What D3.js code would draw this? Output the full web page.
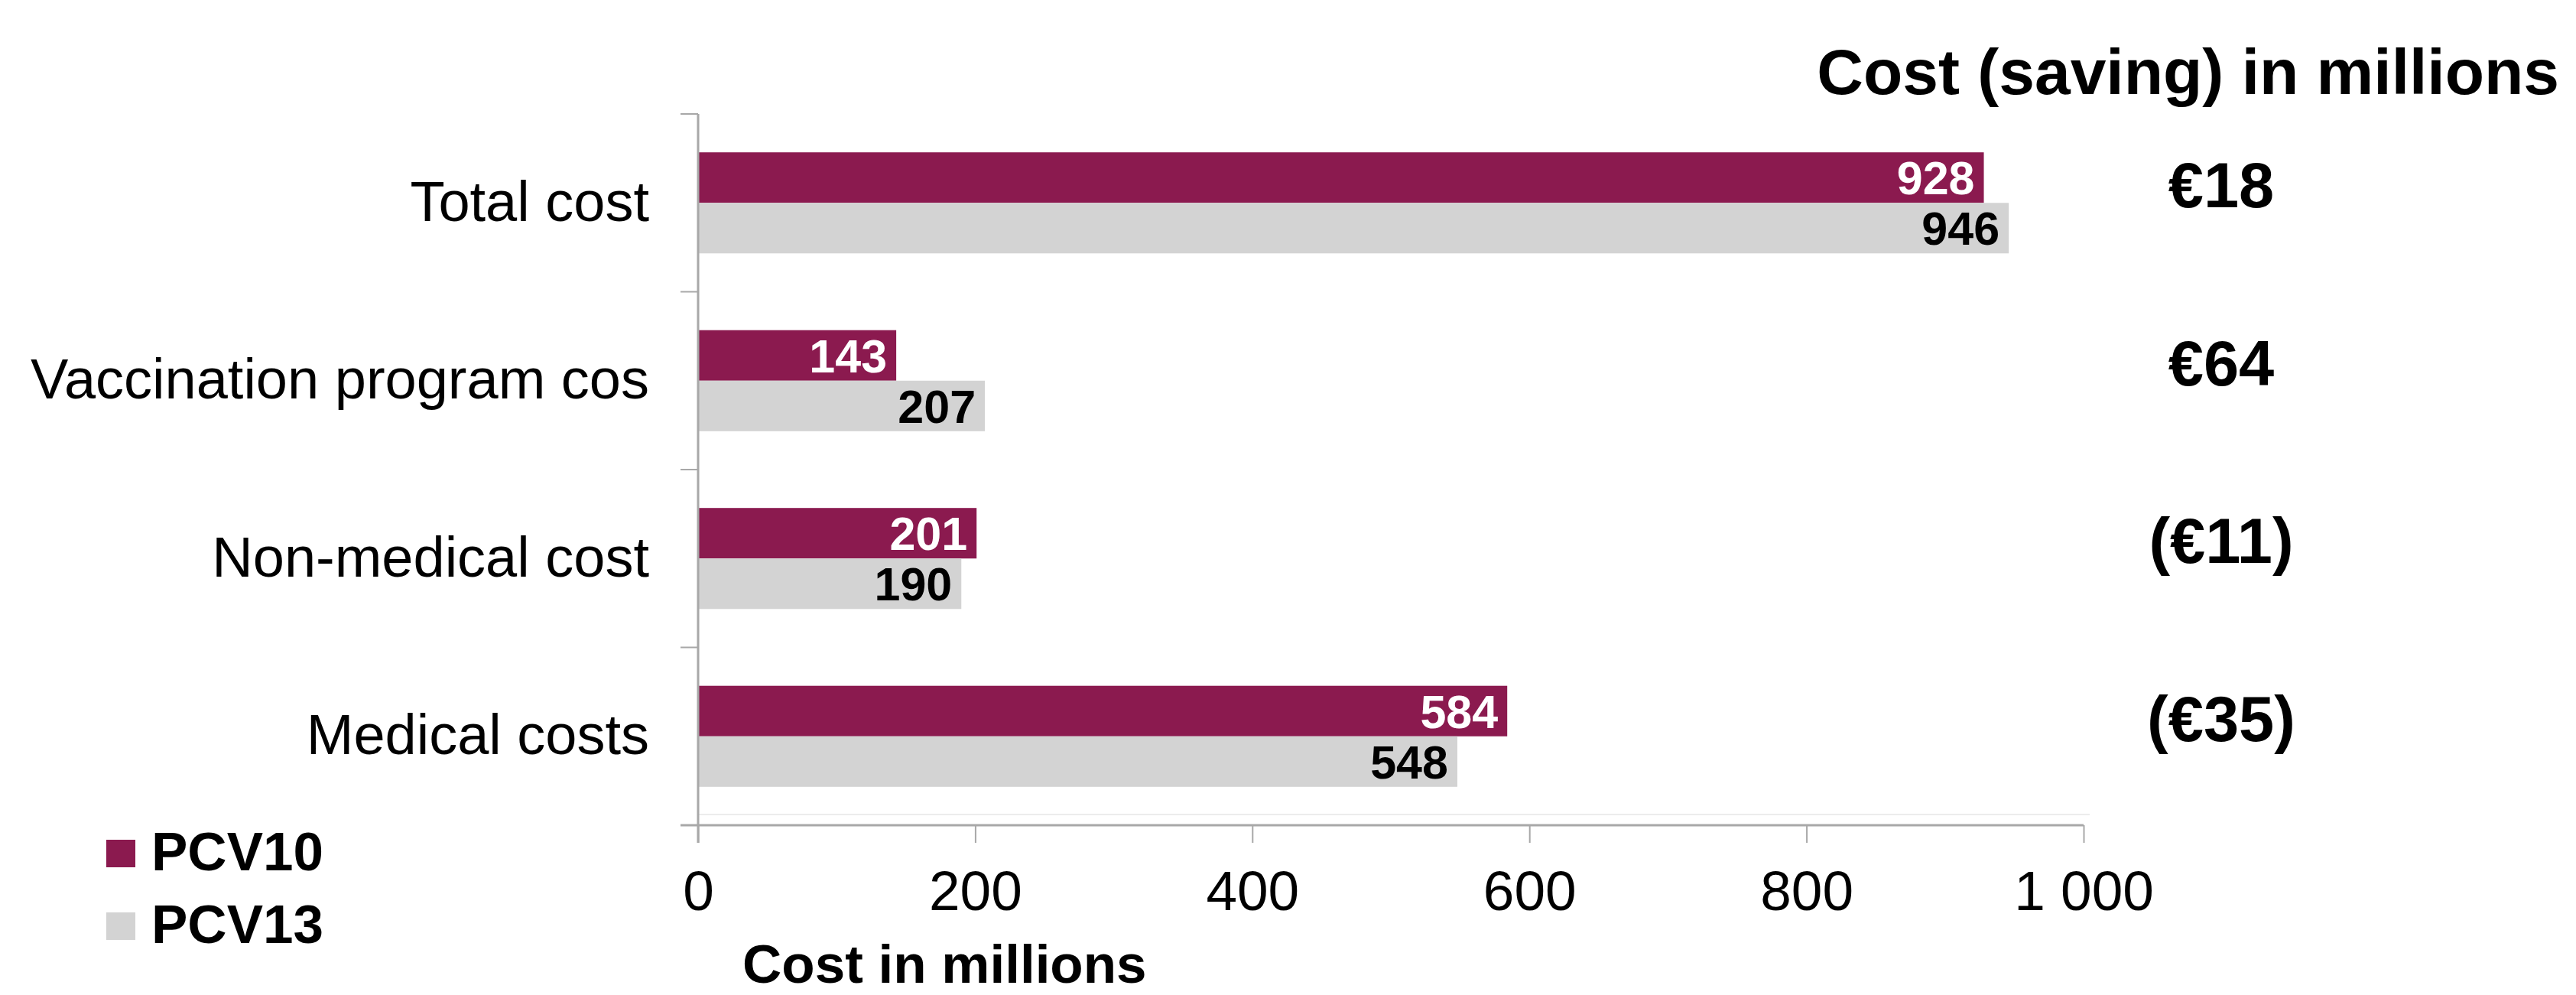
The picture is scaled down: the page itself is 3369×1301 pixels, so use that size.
<!DOCTYPE html>
<html>
<head>
<meta charset="utf-8">
<script src="https://cdn.jsdelivr.net/npm/d3@7"></script>
<style>
  body { margin: 0; background: #fff; }
  text { font-family: "Liberation Sans", Arial, sans-serif; }
</style>
</head>
<body>
<svg id="chart"></svg>
<script>
// data
var categories = ["Total cost", "Vaccination program cos", "Non-medical cost", "Medical costs"];
var seriesNames = ["PCV10", "PCV13"];
var pcv10 = [928, 143, 201, 584];
var pcv13 = [946, 207, 190, 548];
var savings = ["€18", "€64", "(€11)", "(€35)"];
var xTicks = [0, 200, 400, 600, 800, 1000];

const chartW = 3369,
    chartH = 1301,
    plotLeft = 913,
    plotRight = 2725,
    plotTop = 149,
    plotBottom = 1079,
    purple = "#8b1a4f",
    grey = "#d3d3d3",
    axisColor = "#a8a8a8";

var svg = d3.select("#chart")
    .attr("width", chartW)
    .attr("height", chartH);

var xScale = d3.scaleLinear().domain([0, 1000]).range([plotLeft, plotRight]);
var yScale = d3.scaleBand().domain(categories).range([plotTop, plotBottom]).padding(0);
var subScale = d3.scaleBand().domain(seriesNames)
    .range([0, yScale.bandwidth()])
    .paddingInner(0).paddingOuter(0.76);
var colors = d3.scaleOrdinal().domain(seriesNames).range([purple, grey]);

var euro = d3.formatLocale({decimal: ",", thousands: " ", grouping: [3], currency: ["€", ""]});
var fmt = euro.format(",");

var rows = categories.map(function(c, i) {
    return {cat: c, vals: [
        {name: "PCV10", value: pcv10[i]},
        {name: "PCV13", value: pcv13[i]}
    ]};
});

// faint line above axis
svg.append("line")
    .attr("x1", plotLeft).attr("x2", plotRight + 8)
    .attr("y1", plotBottom - 14).attr("y2", plotBottom - 14)
    .style("stroke", "#ececec").style("stroke-width", 2);

// bars
var groups = svg.append("g").selectAll("g")
    .data(rows).enter().append("g")
    .attr("transform", function(d) {return "translate(0," + yScale(d.cat) + ")";});

groups.selectAll("rect")
    .data(function(d) {return d.vals;})
    .enter().append("rect")
    .attr("x", xScale(0))
    .attr("y", function(d) {return subScale(d.name);})
    .attr("width", function(d) {return xScale(d.value) - xScale(0);})
    .attr("height", subScale.bandwidth())
    .style("fill", function(d) {return colors(d.name);});

groups.selectAll("text.val")
    .data(function(d) {return d.vals;})
    .enter().append("text")
    .attr("class", "val")
    .attr("x", function(d) {return xScale(d.value) - 12;})
    .attr("y", function(d) {return subScale(d.name) + subScale.bandwidth() / 2;})
    .attr("dy", "0.36em")
    .attr("text-anchor", "end")
    .style("font-size", "61px")
    .style("font-weight", "bold")
    .style("fill", function(d) {return d.name === "PCV10" ? "#fff" : "#000";})
    .text(function(d) {return d.value;});

// x axis
var xAxis = d3.axisBottom(xScale)
    .tickValues(xTicks)
    .tickSize(23)
    .tickPadding(36)
    .tickFormat(function(d) {return fmt(d);});
var gx = svg.append("g")
    .attr("transform", "translate(0," + plotBottom + ")")
    .call(xAxis);
gx.select(".domain").attr("d", "M" + (plotLeft - 23) + ",0H" + plotRight)
    .style("stroke", axisColor).style("stroke-width", 3);
gx.selectAll(".tick line").style("stroke", axisColor).style("stroke-width", 2);
gx.selectAll(".tick text")
    .style("font-size", "73px")
    .style("font-family", "'Liberation Sans', Arial, sans-serif")
    .style("fill", "#000");

// y axis, ticks sit on the category boundaries
var yAxis = d3.axisLeft(yScale).tickSize(0).tickPadding(64);
var gy = svg.append("g")
    .attr("transform", "translate(" + plotLeft + ",0)")
    .call(yAxis);
gy.select(".domain").attr("d", "M0," + plotTop + "V" + (plotBottom + 23))
    .style("stroke", axisColor).style("stroke-width", 3);
gy.selectAll(".tick text")
    .style("font-size", "74px")
    .style("font-family", "'Liberation Sans', Arial, sans-serif")
    .style("fill", "#000");
gy.selectAll(".bound")
    .data(categories.map(function(c) {return yScale(c);}).concat([plotBottom]))
    .enter().append("line")
    .attr("class", "bound")
    .attr("x1", -23).attr("x2", 0)
    .attr("y1", function(d) {return d;}).attr("y2", function(d) {return d;})
    .style("stroke", axisColor).style("stroke-width", 2);

// axis title
svg.append("text")
    .attr("x", 971).attr("y", 1285)
    .style("font-size", "71px").style("font-weight", "bold")
    .text("Cost in millions");

// savings column
svg.append("text")
    .attr("x", 3347).attr("y", 123)
    .attr("text-anchor", "end")
    .style("font-size", "84px").style("font-weight", "bold")
    .text("Cost (saving) in millions");

svg.append("g").selectAll("text")
    .data(categories)
    .enter().append("text")
    .attr("x", 2905)
    .attr("y", function(d) {return yScale(d) + yScale.bandwidth() / 2 - 24;})
    .attr("dy", "0.36em")
    .attr("text-anchor", "middle")
    .style("font-size", "83px").style("font-weight", "bold")
    .text(function(d, i) {return savings[i];});

// legend
var legend = svg.append("g").selectAll("g")
    .data(seriesNames)
    .enter().append("g")
    .attr("transform", function(d, i) {return "translate(139," + (1098 + i * 95) + ")";});
legend.append("rect")
    .attr("width", 38).attr("height", 36)
    .style("fill", function(d) {return colors(d);});
legend.append("text")
    .attr("x", 59).attr("y", 40)
    .style("font-size", "71px").style("font-weight", "bold")
    .text(function(d) {return d;});
</script>
</body>
</html>
